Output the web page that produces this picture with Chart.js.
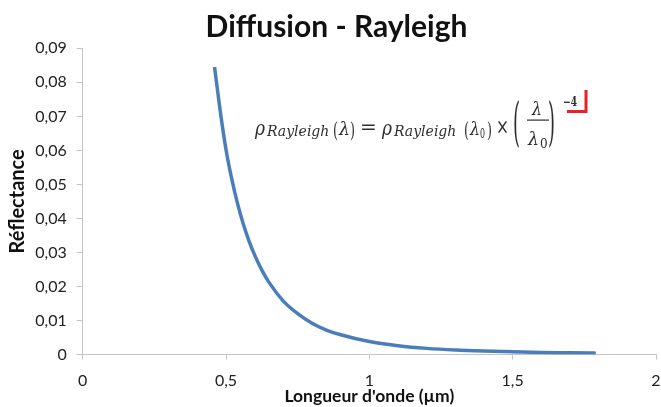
<!DOCTYPE html>
<html>
<head>
<meta charset="utf-8">
<script src="https://cdn.jsdelivr.net/npm/chart.js@4"></script>
<style>
  html, body { margin: 0; padding: 0; background: #fff; }
  #wrap { width: 661px; height: 407px; }
</style>
</head>
<body>
<div id="wrap"><canvas id="rayleighChart" width="661" height="407"></canvas></div>
<script>
// Longueur d'onde (µm) et réflectance
const longueurs = [0.46, 0.48, 0.50, 0.52, 0.54, 0.56, 0.58, 0.60, 0.625, 0.65, 0.70, 0.75,
                   0.80, 0.85, 0.90, 1.00, 1.10, 1.20, 1.30, 1.40, 1.50, 1.60, 1.70, 1.79];
const reflectance = [0.0845, 0.0714, 0.0602, 0.0516, 0.0444, 0.0384, 0.0334, 0.0292, 0.0248, 0.0212, 0.0157, 0.0120,
                     0.0092, 0.0072, 0.0058, 0.0038, 0.0026, 0.0018, 0.0013, 0.0010, 0.0008, 0.0006, 0.0005, 0.0004];

const TITRE = 'Diffusion - Rayleigh';
const TITRE_X = "Longueur d'onde (µm)";
const TITRE_Y = 'Réflectance';

const points = longueurs.map((l, i) => ({ x: l, y: reflectance[i] }));
const virgule = v => String(Math.round(v * 1000) / 1000).replace('.', ',');

// Formule de Rayleigh dessinée en surimpression
const formulePlugin = {
    id: 'formule',
    afterDraw(chart) {
        const ctx = chart.ctx;
        ctx.save();
        ctx.fillStyle = '#2e2e2e';
        ctx.textBaseline = 'alphabetic';
        ctx.textAlign = 'left';
        const it = s => `italic ${s}px "DejaVu Serif"`;
        const rm = s => `${s}px "DejaVu Serif"`;
        const t = (txt, font, x, y, w) => {
            ctx.font = font;
            ctx.fillText(txt, x, y, w);
        };
        const by = 134.5;
        // membre de gauche
        t('ρ', it(20), 255, by, 10);
        t('Rayleigh', it(14), 267, by + 1, 65);
        t('(', rm(21), 333, by + 2, 5);
        t('λ', it(19), 339, by, 11);
        t(')', rm(21), 350, by + 2, 5);
        t('=', rm(20), 360, by - 1, 18);
        // membre de droite
        t('ρ', it(20), 382, by, 10);
        t('Rayleigh', it(14), 394, by + 1, 69);
        t('(', rm(21), 464, by + 2, 5);
        t('λ', it(19), 470, by, 10);
        t('0', rm(12), 480, by + 3, 5);
        t(')', rm(21), 487, by + 2, 5);
        t('×', rm(22), 496, by - 1, 13);
        // fraction
        t('(', rm(52), 513, 140, 7);
        t('λ', it(19), 532, 115, 10);
        ctx.fillRect(527, 119.5, 22, 1.2);
        t('λ', it(19), 528, 145, 11);
        t('0', rm(12), 540, 148, 8);
        t(')', rm(52), 548, 140, 7);
        t('−4', 'bold ' + rm(12), 563, 106, 14);
        // marque rouge
        ctx.strokeStyle = '#e8202a';
        ctx.lineWidth = 3;
        ctx.beginPath();
        ctx.moveTo(567, 111.5);
        ctx.lineTo(586, 111.5);
        ctx.lineTo(586, 90);
        ctx.stroke();
        ctx.restore();
    }
};

const ctx = document.getElementById('rayleighChart').getContext('2d');
const chart = new Chart(ctx, {
    type: 'scatter',
    data: {
        datasets: [{
            label: 'Rayleigh',
            data: points,
            showLine: true,
            borderColor: '#4a7ebb',
            backgroundColor: '#4a7ebb',
            borderWidth: 3.5,
            pointRadius: 0,
            cubicInterpolationMode: 'monotone'
        }]
    },
    options: {
        responsive: false,
        animation: false,
        layout: { padding: { left: 12, right: 0, top: 0, bottom: 0 } },
        plugins: {
            legend: { display: false },
            tooltip: { enabled: false },
            title: {
                display: true,
                text: TITRE,
                color: '#111',
                font: { family: 'Lato', size: 30, weight: 'bold', lineHeight: 1.2 },
                padding: { top: 9, bottom: 3.3 }
            }
        },
        scales: {
            x: {
                type: 'linear',
                min: 0,
                max: 2,
                afterFit: s => { s.height = 52.5; s.paddingRight = 5; s.paddingLeft = 0; },
                border: { color: '#c4c4c4', width: 1 },
                grid: { drawOnChartArea: false, drawTicks: true, tickLength: 5, color: '#c4c4c4' },
                ticks: {
                    stepSize: 0.5,
                    padding: 12,
                    color: '#222',
                    maxRotation: 0,
                    font: { family: 'Lato', size: 16 },
                    callback: v => virgule(v)
                },
                title: {
                    display: true,
                    text: TITRE_X,
                    color: '#111',
                    font: { family: 'Lato', size: 17.5, weight: 'bold', lineHeight: 1.2 },
                    padding: { top: 0, bottom: 0.5 }
                }
            },
            y: {
                min: 0,
                max: 0.09,
                afterFit: s => { s.width = 70.7; },
                border: { color: '#c4c4c4', width: 1 },
                grid: { drawOnChartArea: false, drawTicks: true, tickLength: 6, color: '#c4c4c4' },
                ticks: {
                    stepSize: 0.01,
                    padding: 10,
                    color: '#222',
                    font: { family: 'Lato', size: 16 },
                    callback: v => virgule(v)
                },
                title: {
                    display: true,
                    text: TITRE_Y,
                    color: '#111',
                    font: { family: 'Lato', size: 20, weight: 'bold', lineHeight: 1.2 },
                    padding: { top: -6, bottom: 0 }
                }
            }
        }
    },
    plugins: [formulePlugin]
});
</script>
</body>
</html>
